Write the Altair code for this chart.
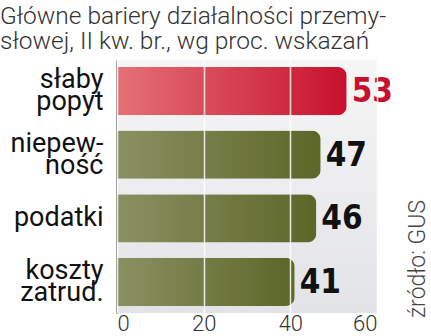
import altair as alt
import pandas as pd

categories = ["słaby\npopyt", "niepew-\nność", "podatki", "koszty\nzatrud."]
values = [53, 47, 46, 41]
highlight = [True, False, False, False]
x_ticks = [0, 20, 40, 60]
title_lines = ["Główne bariery działalności przemy-", "słowej, II kw. br., wg proc. wskazań"]
source_text = ["źródło: GUS"]

df = pd.DataFrame({"cat": categories, "val": values, "hi": highlight})

xscale = alt.Scale(domain=[0, 60], nice=False)
yscale = alt.Scale(paddingInner=0.24, paddingOuter=0.11)

x_enc = alt.X("val:Q", scale=xscale, title=None,
              axis=alt.Axis(values=x_ticks, domain=False, ticks=False, grid=True,
                            gridColor="white", gridWidth=1.5, gridOpacity=0.85,
                            labelFontSize=22, labelFont="Roboto", labelFontWeight=300,
                            labelColor="#333", labelPadding=0, zindex=1))
y_enc = alt.Y("cat:N", sort=categories, scale=yscale, title=None,
              axis=alt.Axis(labelExpr="split(datum.label, '\\n')", domain=True,
                            domainColor="#111", domainWidth=2, ticks=False,
                            labelFontSize=27, labelFont="Roboto", labelFontWeight=400,
                            labelColor="#111", labelLineHeight=22, labelPadding=14,
                            labelBaseline="middle",
                            labelOffset={"condition": {"test": "indexof(datum.value, '\\n') >= 0",
                                                       "value": -11},
                                         "value": 0}))

red_grad = alt.Gradient(gradient="linear", x1=0, x2=1, y1=0, y2=0,
                        stops=[alt.GradientStop(color="#e47175", offset=0),
                               alt.GradientStop(color="#c8102e", offset=1)])
green_grad = alt.Gradient(gradient="linear", x1=0, x2=1, y1=0, y2=0,
                          stops=[alt.GradientStop(color="#8b9062", offset=0),
                                 alt.GradientStop(color="#5c6627", offset=1)])
bg_grad = alt.Gradient(gradient="linear", x1=0, x2=0, y1=0, y2=1,
                       stops=[alt.GradientStop(color="#f6f6f6", offset=0),
                              alt.GradientStop(color="#e2e3e7", offset=1)])

base = alt.Chart(df)

bg = base.mark_rect(fill=bg_grad).encode(x=alt.datum(0, scale=xscale), x2=alt.datum(60))

bars_red = base.transform_filter("datum.hi").mark_bar(
    fill=red_grad, cornerRadiusEnd=9).encode(x=x_enc, y=y_enc)
bars_green = base.transform_filter("!datum.hi").mark_bar(
    fill=green_grad, cornerRadiusEnd=9).encode(x=x_enc, y=y_enc)

labels = base.mark_text(align="left", baseline="middle", dx=5, dy=1,
                        font="'DejaVu Sans Condensed', 'Roboto Condensed', Roboto, sans-serif",
                        fontWeight="bold", fontSize=33).encode(
    x=x_enc, y=y_enc, text="val:Q",
    color=alt.condition("datum.hi", alt.value("#c8102e"), alt.value("#111111")))

src = alt.Chart(pd.DataFrame({"t": source_text})).mark_text(
    angle=270, align="center", baseline="middle", fontSize=23, font="Roboto",
    fontWeight=300, color="#444").encode(text="t:N", x=alt.value(301), y=alt.value(199))

chart = alt.layer(bg, bars_red, bars_green, labels, src).properties(
    width=260, height=253,
    autosize=alt.AutoSizeParams(type="none"),
    padding={"left": 117, "top": 60, "right": 54, "bottom": 23},
    title=alt.Title(text=title_lines, anchor="start", frame="group", dx=-117, offset=6,
                    fontSize=24.5, font="Roboto", fontWeight=300, color="#333",
                    lineHeight=25),
).configure_view(stroke=None)

chart.save("out.html", embed_options={"renderer": "svg", "actions": False})
